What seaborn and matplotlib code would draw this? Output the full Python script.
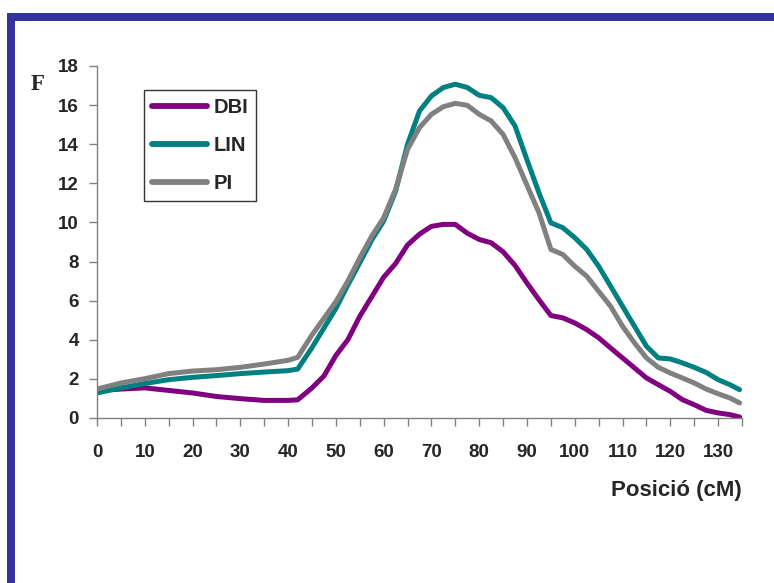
import seaborn as sns
import matplotlib.pyplot as plt
import pandas as pd
from matplotlib.patches import Rectangle
from matplotlib.ticker import MultipleLocator

# positions along the chromosome (cM)
posicio = [0, 5, 10, 15, 20, 25, 30, 35, 40, 42,
           45, 47.5, 50, 52.5, 55, 57.5, 60, 62.5, 65, 67.5,
           70, 72.5, 75, 77.5, 80, 82.5, 85, 87.5, 90, 92.5,
           95, 97.5, 100, 102.5, 105, 107.5, 110, 112.5, 115, 117.5,
           120, 122.5, 125, 127.5, 130, 132.5, 134.5]

dbi = [1.4, 1.48, 1.54, 1.41, 1.28, 1.1, 0.99, 0.9, 0.9, 0.93,
       1.54, 2.15, 3.2, 4.0, 5.2, 6.2, 7.2, 7.9, 8.85, 9.4,
       9.8, 9.9, 9.9, 9.45, 9.13, 8.96, 8.5, 7.8, 6.9, 6.05,
       5.24, 5.12, 4.86, 4.52, 4.1, 3.58, 3.07, 2.56, 2.05, 1.7,
       1.36, 0.94, 0.68, 0.39, 0.26, 0.17, 0.05]

lin = [1.28, 1.54, 1.76, 1.96, 2.08, 2.17, 2.27, 2.35, 2.42, 2.5,
       3.6, 4.6, 5.6, 6.8, 7.94, 9.1, 10.07, 11.6, 14.0, 15.7,
       16.47, 16.9, 17.07, 16.9, 16.5, 16.38, 15.87, 14.93, 13.2, 11.52,
       9.98, 9.73, 9.22, 8.62, 7.76, 6.74, 5.71, 4.69, 3.67, 3.07,
       3.02, 2.82, 2.59, 2.33, 1.96, 1.7, 1.45]

pi = [1.48, 1.79, 2.01, 2.27, 2.4, 2.47, 2.59, 2.76, 2.95, 3.1,
      4.25, 5.1, 5.95, 7.0, 8.19, 9.3, 10.24, 11.69, 13.74, 14.85,
      15.53, 15.92, 16.09, 15.99, 15.53, 15.19, 14.5, 13.31, 11.9, 10.5,
      8.62, 8.36, 7.76, 7.25, 6.48, 5.71, 4.69, 3.84, 3.07, 2.59,
      2.3, 2.05, 1.79, 1.48, 1.24, 1.02, 0.77]

df = pd.DataFrame({'Posició (cM)': posicio, 'DBI': dbi, 'LIN': lin, 'PI': pi})
df_melt = df.melt(id_vars='Posició (cM)', var_name='Serie', value_name='F')

sns.set_theme(style="white")
plt.rcParams['font.family'] = ['Liberation Sans', 'DejaVu Sans']
plt.rcParams['font.weight'] = 'bold'

fig = plt.figure(figsize=(7.74, 5.83), dpi=100)
ax = fig.add_axes([97 / 774, 1 - 418 / 583, 645 / 774, 352 / 583])

palette = {'DBI': '#800080', 'LIN': '#008080', 'PI': '#808080'}
sns.lineplot(data=df_melt, x='Posició (cM)', y='F', hue='Serie',
             palette=palette, linewidth=3.6, ax=ax)

ax.set_xlim(0, 135)
ax.set_ylim(0, 18)
ax.xaxis.set_major_locator(MultipleLocator(10))
ax.xaxis.set_minor_locator(MultipleLocator(5))
ax.yaxis.set_major_locator(MultipleLocator(2))
ax.tick_params(axis='both', which='both', direction='out', length=6,
               width=1, color='#808080', labelsize=13.5)
ax.tick_params(axis='x', which='both', bottom=True, pad=13)
ax.tick_params(axis='y', left=True, pad=7)
for lab in ax.get_xticklabels() + ax.get_yticklabels():
    lab.set_fontweight('bold')

for s in ['top', 'right']:
    ax.spines[s].set_visible(False)
for s in ['left', 'bottom']:
    ax.spines[s].set_color('#808080')
    ax.spines[s].set_linewidth(1)

ax.set_ylabel('')
ax.set_xlabel('Posició (cM)', fontsize=16, fontweight='bold')
ax.xaxis.label.set_horizontalalignment('right')
ax.xaxis.label.set_verticalalignment('center')
ax.xaxis.set_label_coords(1.0, -0.205)

fig.text(38 / 774, 1 - 84 / 583, 'F', family=['Liberation Serif', 'DejaVu Serif'],
         fontsize=16.5, fontweight='bold', ha='center', va='center')

leg = ax.legend(title=None, loc='upper left', bbox_to_anchor=(0.073, 0.932),
                borderaxespad=0, frameon=True, fancybox=False,
                edgecolor='black', fontsize=14.5, handlelength=2.7,
                labelspacing=0.95, borderpad=0.4, handletextpad=0.35)
leg.get_frame().set_linewidth(1)
for t in leg.get_texts():
    t.set_fontweight('bold')
for h in leg.get_lines():
    h.set_linewidth(4.2)

# blue frame round the slide
fig.add_artist(Rectangle((7 / 774, 1 - 21 / 583), 767 / 774, 8 / 583,
                         transform=fig.transFigure, color='#333399', lw=0))
fig.add_artist(Rectangle((7 / 774, 0), 8 / 774, 1 - 13 / 583,
                         transform=fig.transFigure, color='#333399', lw=0))

fig.savefig('out.png', dpi=100)
